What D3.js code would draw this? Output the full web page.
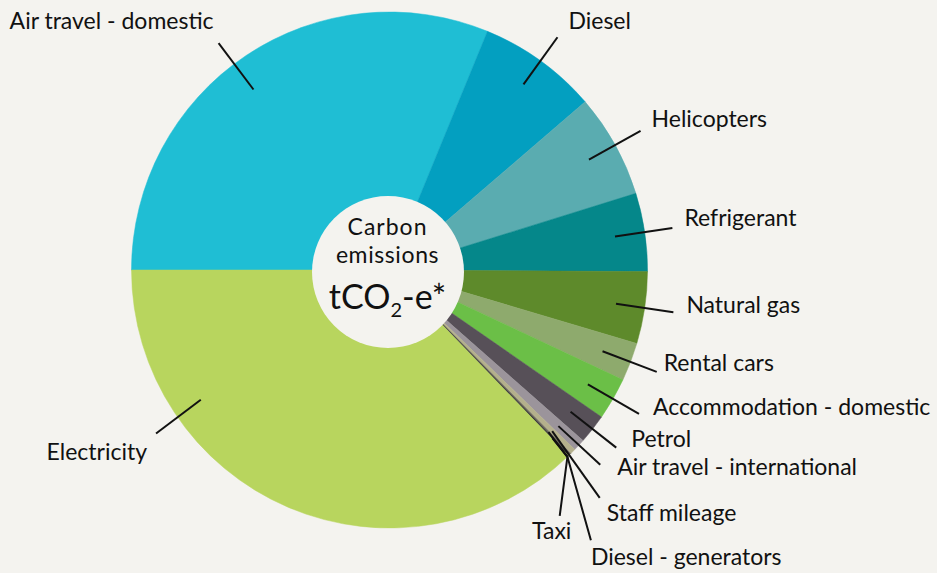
<!DOCTYPE html>
<html>
<head>
<meta charset="utf-8">
<script src="https://cdn.jsdelivr.net/npm/d3@7"></script>
<style>
  html, body { margin: 0; padding: 0; background: #f4f3ef; }
  svg { display: block; font-family: Lato, "Noto Sans", sans-serif; }
</style>
</head>
<body>
<svg id="chart"></svg>
<script>
// share of emissions, %, clockwise from 9 o'clock
const categories = [
  "Air travel - domestic", "Diesel", "Helicopters", "Refrigerant", "Natural gas",
  "Rental cars", "Accommodation - domestic", "Petrol", "Air travel - international",
  "Staff mileage", "Taxi", "Diesel - generators", "Electricity"
]
const values = [31.2, 7.5, 6.5, 4.9, 4.5, 2.4, 2.65, 1.85, 0.75, 0.35, 0.1, 0.1, 37.2]
const colours = [
  "#1fbed4", "#039fc0", "#5aacb0", "#05878a", "#5e8a2b",
  "#8eaa6d", "#6bbf47", "#575058", "#9b949b",
  "#b4b08c", "#6e6b5c", "#3b3a3a", "#b8d55e"
]

// leader lines: points as [angle deg (null = middle of slice), radius], then text offset
const labelLayout = [
  {pts: [[-37, 226], [-37, 284]], dx: -5, dy: -14, anchor: "end"},
  {pts: [[null, 229], [null, 287]], dx: 11, dy: -8},
  {pts: [[null, 228], [null, 287]], dx: 11, dy: -4},
  {pts: [[null, 228], [null, 286]], dx: 12, dy: -2},
  {pts: [[null, 229], [null, 287]], dx: 13, dy: 1},
  {pts: [[null, 228], [null, 286]], dx: 7, dy: -1},
  {pts: [[null, 229], [null, 288]], dx: 14, dy: 1},
  {pts: [[null, 230], [null, 288]], dx: 15, dy: -1},
  {pts: [[null, 230], [null, 287]], dx: 17, dy: 10},
  {pts: [[null, 229], [137.3, 310]], dx: 7, dy: 23},
  {pts: [[null, 227], [136.4, 258], [145.3, 299]], dx: -8, dy: 23, anchor: "middle"},
  {pts: [[null, 234], [136.4, 258], [143.3, 337]], dx: 0, dy: 25},
  {pts: [[235.5, 229], [235, 285]], dx: -9, dy: 27, anchor: "end"}
]

const width = 937, height = 573
const cx = 389.5, cy = 270
const radius = 258, holeR = 76

const svg = d3.select("#chart")
  .attr("width", width)
  .attr("height", height)

const g = svg.append("g").attr("transform", `translate(${cx},${cy})`)

const colour = d3.scaleOrdinal(categories, colours)

const pie = d3.pie()
  .sort(null)
  .value((d, i) => values[i])
  .startAngle(-Math.PI / 2)
  .endAngle(Math.PI * 1.5)

const arcs = pie(categories)

const arc = d3.arc().innerRadius(0).outerRadius(radius)

g.append("g").attr("class", "slices")
  .selectAll("path")
  .data(arcs)
  .join("path")
  .attr("d", arc)
  .attr("fill", d => colour(d.data))
  .attr("stroke", d => colour(d.data))
  .attr("stroke-width", 0.5)

// white hole in the middle
g.append("circle")
  .attr("r", holeR)
  .attr("cx", -1.5)
  .attr("cy", 2)
  .attr("fill", "#f4f3ef")

const polar = (a, r) => [r * Math.sin(a), -r * Math.cos(a)]
const rad = deg => deg * Math.PI / 180

const leaderPts = (d, i) => labelLayout[i].pts.map(([a, r]) => {
  const ang = a === null ? (d.startAngle + d.endAngle) / 2 : rad(a)
  return polar(ang, r)
})

const labels = g.append("g").attr("class", "labels")
  .selectAll("g")
  .data(arcs)
  .join("g")

labels.append("path")
  .attr("d", (d, i) => d3.line()(leaderPts(d, i)))
  .attr("fill", "none")
  .attr("stroke", "#111")
  .attr("stroke-width", 2)

labels.append("text")
  .attr("x", (d, i) => { const p = leaderPts(d, i); return p[p.length - 1][0] + labelLayout[i].dx })
  .attr("y", (d, i) => { const p = leaderPts(d, i); return p[p.length - 1][1] + labelLayout[i].dy })
  .attr("text-anchor", (d, i) => labelLayout[i].anchor || "start")
  .attr("font-size", 23)
  .attr("fill", "#111")
  .text(d => d.data)

// centre title
const title = g.append("g").attr("class", "title").attr("fill", "#111").attr("text-anchor", "middle")
title.append("text").attr("x", -2).attr("y", -35).attr("font-size", 23).attr("letter-spacing", 1).text("Carbon")
title.append("text").attr("x", -2).attr("y", -7).attr("font-size", 23).attr("letter-spacing", 0.6).text("emissions")
const t = title.append("text").attr("x", -2).attr("y", 39).attr("font-size", 34)
t.append("tspan").text("tCO")
t.append("tspan").attr("font-size", 20).attr("dy", 8).text("2")
t.append("tspan").attr("dy", -8).text("-e*")
</script>
</body>
</html>
